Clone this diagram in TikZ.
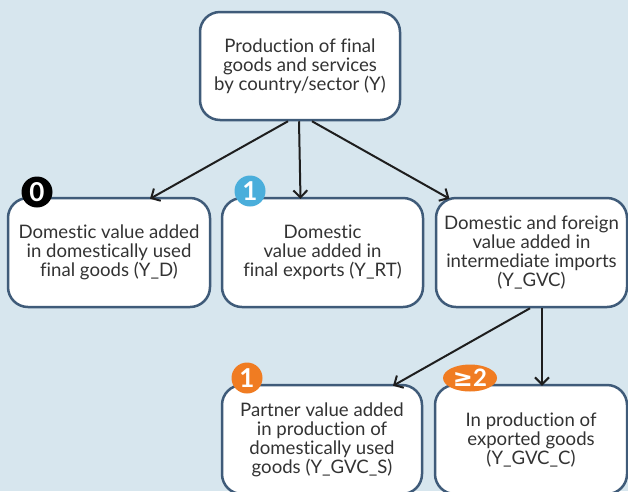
\documentclass[tikz,border=0pt]{standalone}
\usepackage{fontspec}
\setmainfont{Lato}[Ligatures=NoCommon]
\newfontfamily\symbolfont{DejaVu Sans}
\usetikzlibrary{
  arrows.meta,
  positioning,
  shapes.geometric
}
\definecolor{paneblue}{HTML}{D7E6EE}
\definecolor{frameblue}{HTML}{3F5B79}
\definecolor{badgeblue}{HTML}{4AAEDB}
\definecolor{badgeorange}{HTML}{F07C22}
\definecolor{arrowgrey}{HTML}{1E1E1E}
\tikzset{
  % For the white boxes.
  valuebox/.style={
    draw=frameblue,
    line width=2.5pt,
    fill=white,
    rounded corners=20pt,
    align=center,
    inner sep=0pt,
    font=\fontsize{18.6}{19}\selectfont,
    text=black!80},
%
  % For the round counters.
  counter/.style={
    circle,
    fill=#1,
    text=white,
    minimum size=31pt,
    inner sep=0pt,
    font=\fontsize{26}{26}\selectfont\bfseries},
%
  % For the wide counter.
  wide counter/.style={
    ellipse,
    fill=#1,
    text=white,
    minimum width=54pt,
    minimum height=27pt,
    inner sep=0pt,
    font=\fontsize{24}{24}\selectfont\bfseries},
%
  % For connectors.
  link/.style={
    draw=arrowgrey,
    line width=2pt,
    -{Straight Barb[length=7pt,width=14pt,line width=2pt]}},
}

\begin{document}
\begin{tikzpicture}[x=1pt,y=-1pt]
  \useasboundingbox (0,0) rectangle (628,491);
  \fill[paneblue] (0,0) rectangle (628,491);

  \node[valuebox, minimum width=200pt, minimum height=108pt] (Y) at (300,66)
    {Production of final\\goods and services\\by country/sector (Y)};
  \node[valuebox, minimum width=202pt, minimum height=109pt] (YD) at (109,252.5)
    {Domestic value added\\in domestically used\\final goods (Y\_D)};
  \node[valuebox, minimum width=201pt, minimum height=109pt] (YRT) at (322.5,252.5)
    {Domestic\\value added in\\final exports (Y\_RT)};
  \node[valuebox, minimum width=191pt, minimum height=109pt] (YGVC) at (531.5,252.5)
    {Domestic and foreign\\value added in\\intermediate imports\\(Y\_GVC)};
  \node[valuebox, minimum width=200pt, minimum height=109pt] (YGVCS) at (322,439.5)
    {Partner value added\\in production of\\domestically used\\goods (Y\_GVC\_S)};
  \node[valuebox, minimum width=192pt, minimum height=109pt] (YGVCC) at (531,439.5)
    {In production of\\exported goods\\(Y\_GVC\_C)};

  \node[counter=black] (n0) at (37,192) {0};
  \node[counter=badgeblue] (n1) at (250,191) {1};
  \node[counter=badgeorange] (n1s) at (247,378) {1};
  \node[wide counter=badgeorange] (n2) at (470,378) {{\symbolfont\bfseries ≥}2};

  \draw[link] ([xshift=-12pt]Y.south) -- ([xshift=41pt,yshift=-2pt]YD.north);
  \draw[link] ([xshift=-1pt]Y.south) -- ([xshift=-22pt,yshift=-2pt]YRT.north);
  \draw[link] ([xshift=12pt]Y.south) -- ([xshift=-82pt,yshift=-2pt]YGVC.north);

  \draw[link] ([xshift=-1.5pt]YGVC.south) -- ([xshift=71pt,yshift=-2pt]YGVCS.north);
  \draw[link] ([xshift=10.5pt]YGVC.south) -- ([xshift=11pt,yshift=-2pt]YGVCC.north);
\end{tikzpicture}
\end{document}
